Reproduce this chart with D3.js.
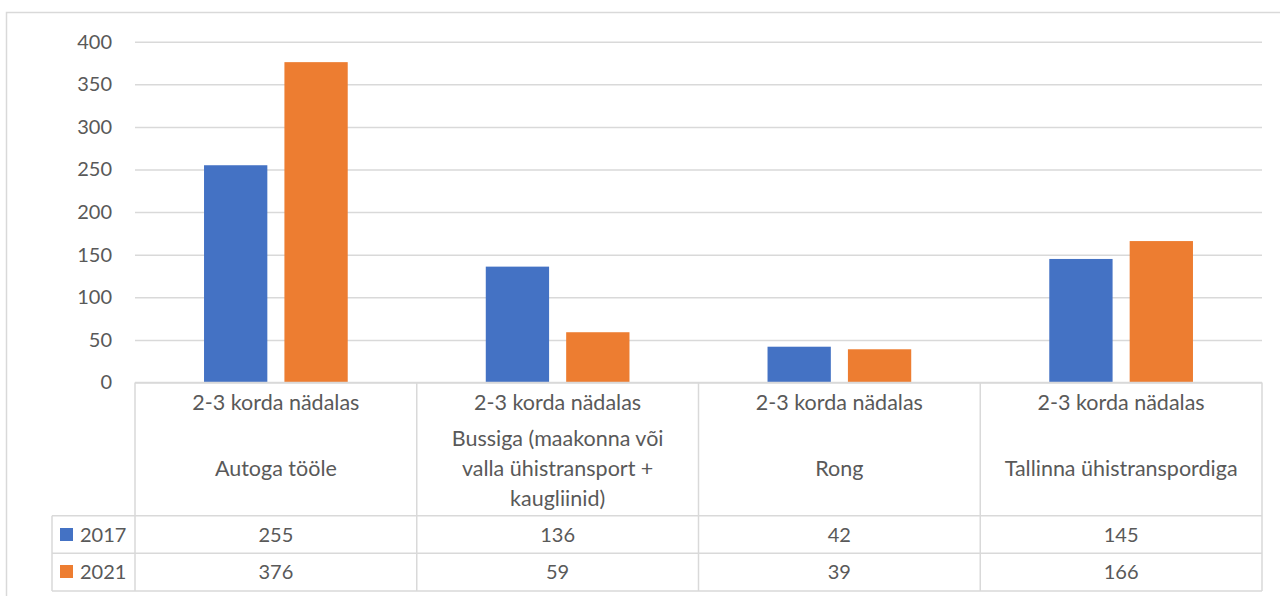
<!DOCTYPE html>
<html>
<head>
<meta charset="utf-8">
<script src="https://cdn.jsdelivr.net/npm/d3@7"></script>
<style>
  html, body { margin: 0; padding: 0; background: #fff; }
  svg { display: block; }
  text { font-family: Lato, "Open Sans", sans-serif; fill: #595959; }
</style>
</head>
<body>
<svg id="chart" width="1280" height="596"></svg>
<script>
// Commuting frequency "2-3 korda nädalas" by mode, 2017 vs 2021
const frequency = "2-3 korda nädalas";
const categories = [
  ["Autoga tööle"],
  ["Bussiga (maakonna või", "valla ühistransport +", "kaugliinid)"],
  ["Rong"],
  ["Tallinna ühistranspordiga"]
];
const seriesNames = ["2017", "2021"];
const values2017 = [255, 136, 42, 145];
const values2021 = [376, 59, 39, 166];
const yTicks = [0, 50, 100, 150, 200, 250, 300, 350, 400];
const colors = ["#4472C4", "#ED7D31"];

const series = [values2017, values2021];
const grid = "#d9d9d9";
const numSize = 20;   // digits
const wordSize = 21.5;  // category labels
const fontFamily = 'Lato, "Open Sans", sans-serif';

const svg = d3.select("#chart");

// outer chart frame
svg.append("rect")
  .attr("x", 6.5).attr("y", 12.5)
  .attr("width", 1400).attr("height", 700)
  .attr("fill", "none").attr("stroke", grid).attr("stroke-width", 1.5);

const plotLeft = 135, plotRight = 1262, plotTop = 41.7, plotBottom = 382.5;

const y = d3.scaleLinear().domain([0, 400]).range([plotBottom, plotTop]);
const x = d3.scaleBand().domain(d3.range(categories.length)).range([plotLeft, plotRight]);
const bw = x.bandwidth();
const xs = d3.scaleBand().domain(d3.range(series.length))
  .range([bw * 0.245, bw * 0.755]).paddingInner(0.2125);

// gridlines + tick labels
const yAxis = svg.append("g")
  .attr("transform", `translate(${plotLeft},0)`)
  .call(d3.axisLeft(y).tickValues(yTicks).tickSize(-(plotRight - plotLeft)).tickPadding(23).tickFormat(d3.format("d")));
yAxis.select(".domain").remove();
yAxis.selectAll(".tick line").attr("stroke", grid).attr("stroke-width", 1.5);
yAxis.selectAll(".tick text")
  .attr("fill", "#595959")
  .style("font-size", numSize + "px")
  .style("font-family", fontFamily);

// bars
categories.forEach((c, i) => {
  series.forEach((vals, s) => {
    svg.append("rect")
      .attr("x", x(i) + xs(s))
      .attr("y", y(vals[i]))
      .attr("width", xs.bandwidth())
      .attr("height", y(0) - y(vals[i]))
      .attr("fill", colors[s]);
  });
});

// data table
const headBottom = 515.7, row1Bottom = 553.3, row2Bottom = 591;
const legendLeft = 52;
const tbl = svg.append("g").attr("stroke", grid).attr("stroke-width", 1.5).attr("fill", "none");
// horizontal lines
tbl.append("line").attr("x1", plotLeft).attr("x2", plotRight).attr("y1", plotBottom).attr("y2", plotBottom);
[headBottom, row1Bottom, row2Bottom].forEach(yy =>
  tbl.append("line").attr("x1", legendLeft).attr("x2", plotRight).attr("y1", yy).attr("y2", yy));
// vertical lines
d3.range(categories.length + 1).forEach(i => {
  const xx = i < categories.length ? x(i) : plotRight;
  tbl.append("line").attr("x1", xx).attr("x2", xx).attr("y1", plotBottom).attr("y2", row2Bottom);
});
tbl.append("line").attr("x1", legendLeft).attr("x2", legendLeft).attr("y1", headBottom).attr("y2", row2Bottom);

// category labels
categories.forEach((lines, i) => {
  const cx = x(i) + bw / 2;
  svg.append("text")
    .attr("x", cx).attr("y", 402).attr("dy", "0.35em")
    .attr("text-anchor", "middle").style("font-size", wordSize + "px")
    .text(frequency);
  const lh = 30;
  const y0 = 468 - (lines.length - 1) * lh / 2;
  lines.forEach((ln, k) => {
    svg.append("text")
      .attr("x", cx).attr("y", y0 + k * lh).attr("dy", "0.35em")
      .attr("text-anchor", "middle").style("font-size", wordSize + "px")
      .text(ln);
  });
});

// value rows with legend keys
const rowCenters = [535, 572];
series.forEach((vals, s) => {
  const cy = rowCenters[s];
  svg.append("rect")
    .attr("x", 60).attr("y", cy - 7).attr("width", 13).attr("height", 13)
    .attr("fill", colors[s]);
  svg.append("text")
    .attr("x", 80).attr("y", cy).attr("dy", "0.35em")
    .style("font-size", numSize + "px")
    .text(seriesNames[s]);
  vals.forEach((v, i) => {
    svg.append("text")
      .attr("x", x(i) + bw / 2).attr("y", cy).attr("dy", "0.35em")
      .attr("text-anchor", "middle").style("font-size", numSize + "px")
      .text(v);
  });
});
</script>
</body>
</html>
